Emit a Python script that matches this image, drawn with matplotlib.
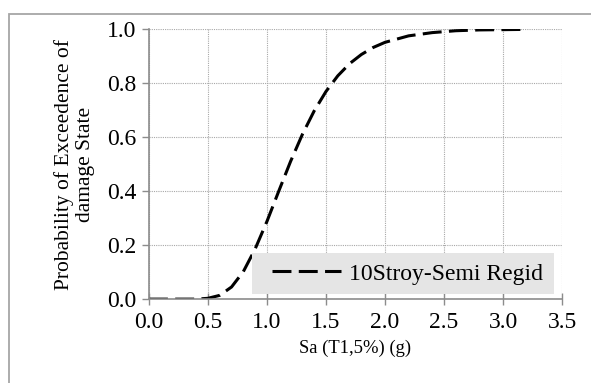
import matplotlib.pyplot as plt
from matplotlib.patches import Rectangle

# ----------------------------- Data ------------------------------------------

SA_G = [0.0, 0.1, 0.2, 0.3, 0.4, 0.5, 0.6, 0.7, 0.8, 0.9, 1.0, 1.1, 1.2, 1.3,
        1.4, 1.5, 1.6, 1.7, 1.8, 1.9, 2.0, 2.2, 2.4, 2.6, 2.8, 3.0, 3.2]
P_EXCEED = [0.0, 0.0, 0.0, 0.0, 0.0, 0.003, 0.014, 0.045, 0.102, 0.186, 0.288,
            0.400, 0.510, 0.610, 0.697, 0.769, 0.827, 0.872, 0.906, 0.932,
            0.951, 0.975, 0.987, 0.994, 0.997, 0.998, 0.999]
SERIES_LABEL = "10Stroy-Semi Regid"

X_TICKS = [0.0, 0.5, 1.0, 1.5, 2.0, 2.5, 3.0, 3.5]
Y_TICKS = [0.0, 0.2, 0.4, 0.6, 0.8, 1.0]

# ----------------------------- Plot ------------------------------------------

plt.rcParams["font.family"] = ["Liberation Serif", "DejaVu Serif"]

fig = plt.figure(figsize=(5.91, 3.83), dpi=100)
ax = fig.add_axes([0.252, 0.219, 0.699, 0.705])

# outer chart border (only top/left visible in the crop)
fig.patches.append(Rectangle((9 / 591, -0.1), 1.2, 1 - 14 / 383 + 0.1,
                             transform=fig.transFigure, fill=False,
                             edgecolor="#a6a6a6", linewidth=1.3))

ax.plot(SA_G, P_EXCEED, color="black", linewidth=2.2,
        dashes=(6.2, 2.4), label=SERIES_LABEL, zorder=2)

ax.set_xlim(0, 3.5)
ax.set_ylim(0, 1.0)
ax.set_xticks(X_TICKS)
ax.set_yticks(Y_TICKS)
ax.set_xticklabels([f"{v:.1f}" for v in X_TICKS])
ax.set_yticklabels([f"{v:.1f}" for v in Y_TICKS])

ax.grid(True, color="#a8a8a8", linestyle=(0, (1, 1)), linewidth=0.8)
for side in ("top", "right"):
    ax.spines[side].set_visible(False)
for side in ("left", "bottom"):
    ax.spines[side].set_color("#8c8c8c")
    ax.spines[side].set_linewidth(1.2)

ax.tick_params(axis="x", direction="inout", length=8, width=1.0,
               color="#8c8c8c", labelsize=17, pad=5)
ax.tick_params(axis="y", direction="out", length=5, width=1.0,
               color="#8c8c8c", labelsize=17, pad=4)

ax.set_xlabel("Sa (T1,5%) (g)", fontsize=13.4, labelpad=5)
ax.set_ylabel("Probability of Exceedence of\ndamage State", fontsize=15.5,
              labelpad=9, linespacing=1.1)

# legend box (Excel style, wider padding on the left)
ax.add_patch(Rectangle((0.249, 0.0185), 0.731, 0.152, transform=ax.transAxes,
                       facecolor="#e5e5e5", edgecolor="none", zorder=3))
leg = ax.legend(loc="center", bbox_to_anchor=(0.626, 0.094),
                fontsize=17, frameon=False, handlelength=2.9,
                handletextpad=0.35, borderpad=0.0, borderaxespad=0)
leg.set_zorder(4)

fig.savefig("out.png", dpi=100)
